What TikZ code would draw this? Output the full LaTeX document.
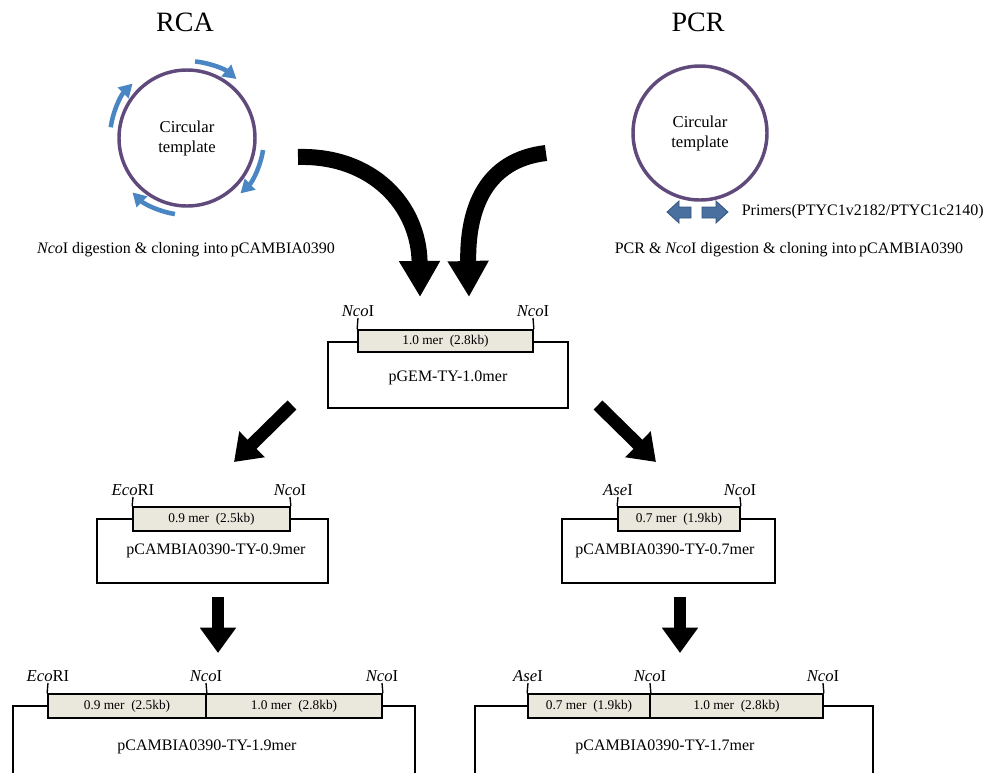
\documentclass[tikz,border=0pt]{standalone}
\usepackage{fontspec}
\setmainfont{Liberation Serif}
\usetikzlibrary{arrows.meta,fit,calc}

\definecolor{ringpurple}{RGB}{96,74,123}
\definecolor{rcablue}{RGB}{74,134,196}
\definecolor{primerblue}{RGB}{74,112,160}
\definecolor{primeredge}{RGB}{52,84,128}
\definecolor{insertfill}{RGB}{234,231,220}

\tikzset{every picture/.style={line width=0.75pt}}
\tikzset{
  title/.style={font=\fontsize{21}{24}\selectfont},
  template/.style={circle, draw=ringpurple, line width=2.6pt, align=center, inner sep=0pt,
    font=\fontsize{12.5}{15}\selectfont},
  rcaarc/.style={draw=rcablue, line width=3.4pt, -{Triangle[length=10pt,width=11pt]}},
  primer/.style={fill=primerblue, draw=primeredge, line width=0.6pt},
  note/.style={font=\fontsize{12}{14}\selectfont, inner sep=1pt},
  bigarrow/.style={line width=12pt, -{Triangle[length=27pt,width=29pt]}},
  stepper/.style={line width=9.5pt, -{Triangle[length=19pt,width=26pt]}},
  frame/.style={draw, line width=1pt, inner sep=0pt},
  insert/.style={draw, fill=insertfill, line width=1.3pt, inner sep=0pt},
  insertsize/.style={font=\fontsize{10}{11}\selectfont, inner sep=0pt},
  enzyme/.style={font=\fontsize{12.5}{14}\selectfont, inner sep=1pt, anchor=south},
  site/.style={line width=1pt},
  construct/.style={font=\fontsize{12}{14}\selectfont}
}

\begin{document}
\begin{tikzpicture}[x=0.75pt,y=0.75pt,yscale=-1,xscale=1]
\useasboundingbox (0,0) rectangle (990,772);
\clip (0,0) rectangle (990,772);

% Titles
\node[title] (rca) at (185,22) {RCA};
\node[title] (pcr) at (698,22) {PCR};

%Shape: Circle (RCA template)
\node[template, minimum size=102pt] (rcatpl) at (187,138) {Circular\\template};
%Rolling circle arrows
\foreach \a/\b in {-84/-50, -172/-135, 9/46, 99/135}
  \draw[rcaarc] (rcatpl.center) ++(\a:77) arc[start angle=\a, end angle=\b, radius=77];

%Shape: Circle (PCR template)
\node[template, minimum size=100.5pt] (pcrtpl) at (700,133) {Circular\\template};
%Primers
\filldraw[primer] (667,212) -- (679,201) -- (679,207) -- (691,207) -- (691,218) -- (679,218) -- (679,223) -- cycle;
\filldraw[primer] (728,212) -- (716,201) -- (716,207) -- (702,207) -- (702,218) -- (716,218) -- (716,223) -- cycle;
\node[note, anchor=west] (primers) at (740,212) {Primers(PTYC1v2182/PTYC1c2140)};

% Text Node
\node[note] (rcastep) at (186,250) {\textit{Nco}I digestion \& cloning into\,pCAMBIA0390};
\node[note] (pcrstep) at (789,250) {PCR \& \textit{Nco}I digestion \& cloning into\,pCAMBIA0390};

%Curved arrows
\coordinate (rcaout) at (298,157);
\coordinate (rcain) at (420,297);
\coordinate (pcrout) at (546,153);
\coordinate (pcrin) at (469,297);
\draw[bigarrow] (rcaout) .. controls (372,155) and (419,205) .. (rcain);
\draw[bigarrow] (pcrout) .. controls (486,160) and (467,208) .. (pcrin);

%pGEM-TY-1.0mer
\node[frame, fit={(328,342) (568,408)}] (gemframe) {};
\node[insert, fit={(358,330) (533,352)}] (gemins) {};
\node[insertsize] (gemsize) at (gemins.center) {1.0 mer\ \ (2.8kb)};
\node[enzyme] (gemnco1) at (358,318) {\textit{Nco}I};
\node[enzyme] (gemnco2) at (533,318) {\textit{Nco}I};
\draw[site] (gemins.north west) -- (gemnco1.south);
\draw[site] (gemins.north east) -- (gemnco2.south);
\node[construct] (gemname) at (448,378) {pGEM-TY-1.0mer};

%Steps down
\coordinate (gemleft) at (292,405);
\coordinate (ecotop) at (234,462);
\coordinate (gemright) at (598,405);
\coordinate (asetop) at (656,462);
\draw[stepper] (gemleft) -- (ecotop);
\draw[stepper] (gemright) -- (asetop);

%pCAMBIA0390-TY-0.9mer
\node[frame, fit={(97,519) (328,583)}] (ecoframe) {};
\node[insert, fit={(133,507) (290,531)}] (ecoins) {};
\node[insertsize] (ecosize) at (ecoins.center) {0.9 mer\ \ (2.5kb)};
\node[enzyme] (ecoeco) at (133,497) {\textit{Eco}RI};
\node[enzyme] (econco) at (290,497) {\textit{Nco}I};
\draw[site] (ecoins.north west) -- (ecoeco.south);
\draw[site] (ecoins.north east) -- (econco.south);
\node[construct] (econame) at (216,551) {pCAMBIA0390-TY-0.9mer};

%pCAMBIA0390-TY-0.7mer
\node[frame, fit={(562,519) (775,583)}] (aseframe) {};
\node[insert, fit={(618,507) (740,531)}] (aseins) {};
\node[insertsize] (asesize) at (aseins.center) {0.7 mer\ \ (1.9kb)};
\node[enzyme] (asease) at (618,497) {\textit{Ase}I};
\node[enzyme] (asenco) at (740,497) {\textit{Nco}I};
\draw[site] (aseins.north west) -- (asease.south);
\draw[site] (aseins.north east) -- (asenco.south);
\node[construct] (asename) at (665,551) {pCAMBIA0390-TY-0.7mer};

\coordinate (ecobottom) at (218,597);
\coordinate (dimertop) at (218,653);
\coordinate (asebottom) at (680,597);
\coordinate (trimertop) at (680,653);
\draw[stepper] (ecobottom) -- (dimertop);
\draw[stepper] (asebottom) -- (trimertop);

%pCAMBIA0390-TY-1.9mer
\node[frame, fit={(13,706) (415,800)}] (dimerframe) {};
\node[insert, fit={(48,694) (206,718)}] (dimerpart) {};
\node[insert, fit={(206,694) (382,718)}] (dimerunit) {};
\node[insertsize] (dimerpartsize) at (dimerpart.center) {0.9 mer\ \ (2.5kb)};
\node[insertsize] (dimerunitsize) at (dimerunit.center) {1.0 mer\ \ (2.8kb)};
\node[enzyme] (dimereco) at (48,683) {\textit{Eco}RI};
\node[enzyme] (dimernco1) at (206,683) {\textit{Nco}I};
\node[enzyme] (dimernco2) at (382,683) {\textit{Nco}I};
\draw[site] (dimerpart.north west) -- (dimereco.south);
\draw[site] (dimerpart.north east) -- (dimernco1.south);
\draw[site] (dimerunit.north east) -- (dimernco2.south);
\node[construct] (dimername) at (207,747) {pCAMBIA0390-TY-1.9mer};

%pCAMBIA0390-TY-1.7mer
\node[frame, fit={(475,706) (873,800)}] (trimerframe) {};
\node[insert, fit={(528,694) (650,718)}] (trimerpart) {};
\node[insert, fit={(650,694) (823,718)}] (trimerunit) {};
\node[insertsize] (trimerpartsize) at (trimerpart.center) {0.7 mer\ \ (1.9kb)};
\node[insertsize] (trimerunitsize) at (trimerunit.center) {1.0 mer\ \ (2.8kb)};
\node[enzyme] (trimerase) at (528,683) {\textit{Ase}I};
\node[enzyme] (trimernco1) at (650,683) {\textit{Nco}I};
\node[enzyme] (trimernco2) at (823,683) {\textit{Nco}I};
\draw[site] (trimerpart.north west) -- (trimerase.south);
\draw[site] (trimerpart.north east) -- (trimernco1.south);
\draw[site] (trimerunit.north east) -- (trimernco2.south);
\node[construct] (trimername) at (665,747) {pCAMBIA0390-TY-1.7mer};

\end{tikzpicture}
\end{document}
